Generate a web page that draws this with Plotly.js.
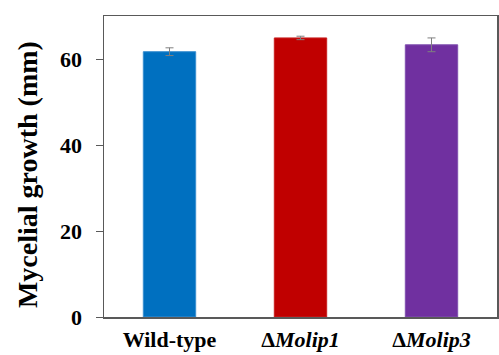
<!DOCTYPE html>
<html>
<head>
<meta charset="utf-8">
<script src="https://cdn.plot.ly/plotly-3.0.1.min.js"></script>
<style>html,body{margin:0;padding:0;background:#fff;}#chart{width:499px;height:355px;}</style>
</head>
<body>
<div id="chart"></div>
<script>
var categories = ["Wild-type", "ΔMolip1", "ΔMolip3"];
var tickLabels = ["<b>Wild-type</b>", "<b>Δ<i>Molip1</i></b>", "<b>Δ<i>Molip3</i></b>"];
var values = [61.7, 64.9, 63.3];
var errors = [0.9, 0.4, 1.6];
var colors = ["#0070C0", "#C00000", "#7030A0"];
var yTicks = [0, 20, 40, 60];
var yTickLabels = ["<b>0</b>", "<b>20</b>", "<b>40</b>", "<b>60</b>"];
var yTitle = "<b>Mycelial growth (mm)</b>";

var trace = {
  type: "bar",
  x: categories,
  y: values,
  width: 0.4,
  marker: {color: colors, line: {color: ["#3a8fd0", "#c82020", "#8050b0"], width: 1}},
  error_y: {type: "data", array: errors, visible: true, color: "#7f7f7f", thickness: 1, width: 4}
};

var layout = {
  width: 499, height: 355,
  margin: {l: 104, r: 2, t: 16, b: 38},
  paper_bgcolor: "#fff", plot_bgcolor: "#fff",
  font: {family: "Liberation Serif", color: "#000"},
  showlegend: false,
  xaxis: {
    tickmode: "array", tickvals: categories, ticktext: tickLabels,
    showline: true, linecolor: "#595959", linewidth: 1.5, mirror: true,
    ticks: "", tickfont: {size: 22, family: "Liberation Serif"}, ticklabelstandoff: 2,
    showgrid: false, zeroline: false
  },
  yaxis: {
    range: [0, 70], tickmode: "array", tickvals: yTicks, ticktext: yTickLabels,
    showline: true, linecolor: "#595959", linewidth: 1.5, mirror: true,
    ticks: "outside", ticklen: 7, tickcolor: "#595959", tickwidth: 1,
    tickfont: {size: 22, family: "Liberation Serif"}, ticklabelstandoff: 9,
    showgrid: false, zeroline: false
  },
  annotations: [{
    text: yTitle, textangle: -90, showarrow: false,
    xref: "paper", yref: "paper", x: -0.193, y: 0.472,
    xanchor: "center", yanchor: "middle",
    font: {size: 28, family: "Liberation Serif", color: "#000"}
  }]
};

Plotly.newPlot("chart", [trace], layout, {displayModeBar: false, staticPlot: true});
</script>
</body>
</html>
